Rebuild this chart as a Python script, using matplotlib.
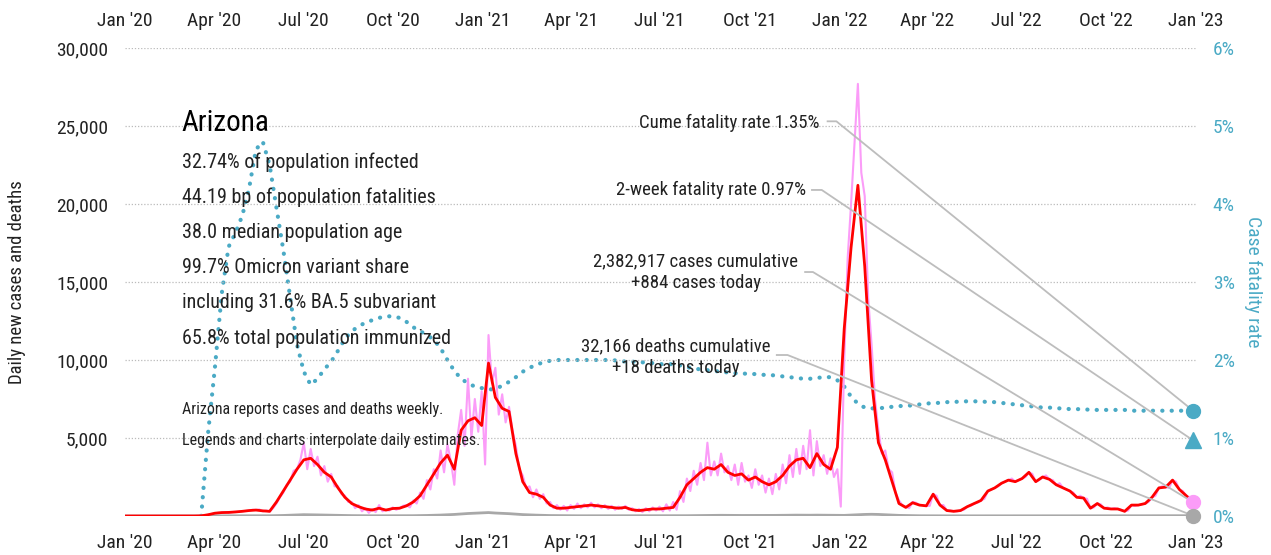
import matplotlib
matplotlib.use("Agg")
import matplotlib.pyplot as plt
import matplotlib.dates as mdates
import matplotlib.font_manager as fm
import numpy as np
import pandas as pd

# weekly 7-day average of new cases, starting 2020-01-02
cases_avg = [
    0, 0, 0, 0, 0, 0, 0, 0, 0, 0, 0,
    10, 80, 180, 220, 230, 260, 300, 350, 380, 330,
    300, 900, 1600, 2300, 3000, 3600, 3700, 3300, 2800, 2500,
    1800, 1200, 800, 600, 450, 380, 500, 380, 480, 500,
    650, 900, 1300, 2000, 2700, 3400, 3900, 3000, 5500, 6100,
    6300, 5800, 9800, 7600, 6900, 6700, 4000, 2200, 1500, 1400,
    1200, 700, 500, 500, 550, 600, 650, 700, 650, 600,
    550, 500, 550, 400, 350, 400, 450, 450, 500, 550,
    1200, 2000, 2400, 2800, 3100, 3000, 3300, 2800, 2600, 2700,
    2300, 2500, 2200, 2000, 2200, 2600, 3200, 3600, 3700, 3100,
    4000, 3300, 3000, 4400, 12000, 17200, 21200, 16000, 8700, 4700,
    3600, 2200, 800, 550, 850, 700, 650, 1400, 700, 350,
    300, 350, 600, 800, 1000, 1600, 1800, 2100, 2300, 2200,
    2400, 2800, 2200, 2500, 2350, 2000, 1800, 1600, 1200, 1150,
    500, 800, 500, 450, 450, 300, 700, 700, 800, 1200,
    1800, 1850, 2300, 1700, 1300, 884,
]

# daily estimates, twice a week
cases_daily = [
    0, 0, 0, 0, 0, 0, 0, 0, 0, 0, 0, 0, 0, 0, 0, 0, 0, 0, 0, 0, 0, 0,
    5, 20, 80, 120, 170, 200, 210, 240, 220, 250, 260, 270, 300, 320,
    340, 400, 380, 420, 300, 350, 280, 500, 800, 1200, 1500, 2000,
    2200, 2900, 3000, 3600, 4700, 3000, 4300, 3200, 3800, 2600,
    3200, 2200, 2700, 1900, 1900, 1400, 1300, 900, 900, 500,
    700, 300, 500, 200, 450, 250, 700, 300, 400, 350, 550, 400,
    500, 650, 700, 550, 1000, 800, 1500, 1100, 2300, 1700,
    3000, 2400, 4200, 2800, 4600, 3500, 2000, 5200, 6800, 4500,
    8800, 5000, 7500, 5400, 8000, 3300, 11600, 8500, 9500, 6500,
    7800, 6000, 7000, 5500, 4500, 3000, 2600, 1800, 1900, 1200,
    1700, 1100, 1400, 800, 900, 500, 700, 400, 650, 350,
    700, 450, 800, 500, 750, 550, 850, 550, 750, 500,
    700, 450, 650, 400, 600, 450, 650, 400, 500, 300,
    450, 250, 500, 300, 550, 350, 600, 300, 750, 350,
    900, 400, 1600, 900, 2400, 1600, 2900, 2000, 3400, 2300,
    4700, 2600, 3500, 2600, 4000, 2800, 3200, 2300, 3300, 2000,
    3400, 2200, 2600, 1800, 3000, 2000, 2600, 1500, 2400, 1400,
    2700, 1700, 3300, 2100, 3900, 2500, 4300, 2700, 4500, 3000,
    5500, 2600, 4800, 3200, 3900, 2700, 3700, 2500, 3000, 600,
    10000, 16500, 20000, 23800, 27700, 22000, 20500, 14000, 11000, 7500,
    5500, 4000, 4200, 3000, 2800, 1500, 1000, 700, 600, 500,
    900, 850, 700, 700, 650, 650, 1400, 1300, 700, 700,
    350, 350, 300, 300, 350, 400, 600, 650, 800, 850,
    1000, 1100, 1600, 1700, 1800, 1900, 2100, 2200, 2300, 2400,
    2200, 2300, 2400, 2500, 2800, 2700, 2200, 2300, 2500, 2600,
    2350, 2300, 2000, 2100, 1800, 1700, 1600, 1500, 1200, 1300,
    1150, 1100, 500, 550, 800, 750, 500, 550, 450, 500,
    450, 400, 300, 350, 700, 650, 700, 750, 800, 900,
    1200, 1300, 1800, 1900, 1850, 1800, 2300, 2200, 1700, 1600,
    1300, 1200, 884,
]

# weekly new deaths
deaths = [
    0, 0, 0, 0, 0, 0, 0, 0, 0, 0, 0,
    2, 5, 8, 10, 12, 14, 15, 15, 14, 15,
    18, 25, 35, 50, 70, 85, 80, 70, 60, 50,
    40, 30, 25, 20, 15, 15, 15, 12, 12, 15,
    15, 20, 25, 35, 45, 60, 80, 100, 130, 160,
    180, 200, 220, 190, 170, 150, 120, 90, 70, 55,
    40, 30, 25, 20, 15, 15, 15, 12, 12, 12,
    10, 10, 10, 10, 10, 10, 10, 12, 12, 12,
    15, 20, 25, 30, 35, 40, 45, 40, 40, 35,
    35, 35, 30, 35, 40, 45, 50, 55, 50, 50,
    55, 50, 50, 40, 40, 60, 80, 100, 110, 100,
    80, 60, 40, 30, 20, 15, 12, 10, 10, 10,
    10, 12, 12, 15, 15, 15, 12, 12, 15, 15,
    15, 15, 12, 12, 12, 10, 10, 10, 10, 10,
    10, 12, 12, 12, 15, 15, 15, 15, 18, 18,
    18, 18, 18, 18, 18, 18,
]

# case fatality rate (%), weekly, from 2020-03-19
cfr = [
    0.0, 1.06, 1.9, 2.85, 3.45, 3.63, 3.85, 4.2, 4.7, 4.8,
    4.5, 3.95, 3.41, 2.8, 2.2, 1.85, 1.68, 1.76, 1.88, 1.98,
    2.12, 2.27, 2.37, 2.43, 2.48, 2.51, 2.54, 2.56, 2.56, 2.54,
    2.49, 2.42, 2.37, 2.32, 2.26, 2.15, 2.0, 1.86, 1.76, 1.7,
    1.66, 1.64, 1.62, 1.63, 1.67, 1.72, 1.78, 1.85, 1.9, 1.94,
    1.97, 1.99, 2.0, 2.0, 2.0, 2.0, 2.0, 2.0, 2.0, 2.0,
    2.0, 1.99, 1.98, 1.98, 1.97, 1.97, 1.96, 1.95, 1.94, 1.95,
    1.93, 1.91, 1.89, 1.88, 1.87, 1.86, 1.85, 1.84, 1.83, 1.83,
    1.82, 1.82, 1.81, 1.81, 1.8, 1.79, 1.78, 1.77, 1.76, 1.76,
    1.77, 1.78, 1.78, 1.74, 1.66, 1.53, 1.44, 1.39, 1.38, 1.38,
    1.39, 1.4, 1.41, 1.41, 1.42, 1.43, 1.44, 1.45, 1.45, 1.46,
    1.46, 1.47, 1.47, 1.47, 1.47, 1.46, 1.46, 1.45, 1.44, 1.43,
    1.42, 1.41, 1.4, 1.39, 1.39, 1.38, 1.38, 1.37, 1.37, 1.37,
    1.36, 1.36, 1.36, 1.36, 1.36, 1.36, 1.35, 1.35, 1.35, 1.35,
    1.35, 1.35, 1.35, 1.35, 1.35, 1.35,
]

cume_cfr = 1.35
two_week_cfr = 0.97
cases_today = 884
deaths_today = 18

state = "Arizona"
stats = [
    "32.74% of population infected",
    "44.19 bp of population fatalities",
    "38.0 median population age",
    "99.7% Omicron variant share",
    "including 31.6% BA.5 subvariant",
    "65.8% total population immunized",
]
notes = [
    "Arizona reports cases and deaths weekly.",
    "Legends and charts interpolate daily estimates.",
]

weeks = pd.date_range("2020-01-02", periods=len(cases_avg), freq="7D")
half_weeks = pd.date_range("2020-01-02", periods=len(cases_daily), freq="84h")
cfr_weeks = pd.date_range("2020-03-19", periods=len(cfr), freq="7D")
last = weeks[-1]

TEAL = "#4aaac5"
PINK = "#fb9cf8"
RED = "#ff0000"
GREY = "#a8a8a8"
LINE = "#bdbdbd"
INK = "#222222"


def pick_font(candidates):
    names = {f.name for f in fm.fontManager.ttflist}
    for name in candidates:
        if name in names:
            return name
    return "DejaVu Sans"


font = pick_font(["Liberation Sans Narrow", "Roboto Condensed", "Open Sans Condensed",
                  "Arial Narrow", "Liberation Sans"])
plt.rcParams["font.family"] = [font, "DejaVu Sans"]

fig = plt.figure(figsize=(12.71, 5.55), dpi=100)
ax = fig.add_axes([125 / 1271, 39 / 555, 1071 / 1271, 468 / 555])
ax2 = ax.twinx()

ax.plot(half_weeks, cases_daily, color=PINK, lw=1.5, zorder=2)
ax.plot(weeks, deaths, color=GREY, lw=2, zorder=3)
ax.plot(weeks, cases_avg, color=RED, lw=2, zorder=4)

ax2.plot(cfr_weeks, cfr, color=TEAL, lw=3.0, linestyle=(0, (0.05, 2.2)),
         dash_capstyle="round", zorder=5)

ax.set_xlim(pd.Timestamp("2020-01-01"), pd.Timestamp("2023-01-01"))
ax.set_ylim(0, 30000)
ax2.set_ylim(0, 6)

ax.xaxis.set_major_locator(mdates.MonthLocator(bymonth=[1, 4, 7, 10]))
ax.xaxis.set_major_formatter(mdates.DateFormatter("%b '%y"))
ax.tick_params(axis="x", which="both", length=0, pad=13, labelsize=14,
               labeltop=True, top=False, bottom=False, labelcolor=INK)

ax.set_yticks(range(5000, 30001, 5000))
ax.set_yticklabels([f"{v:,}" for v in range(5000, 30001, 5000)])
ax.tick_params(axis="y", length=0, pad=12, labelsize=14, labelcolor=INK)
ax.grid(axis="y", color="#bbbbbb", linestyle=(0, (1, 1.5)), lw=0.9)
ax.grid(axis="x", visible=False)

ax2.set_yticks(range(0, 7))
ax2.set_yticklabels([f"{v}%" for v in range(0, 7)])
ax2.tick_params(axis="y", length=0, pad=12, labelsize=14, labelcolor=TEAL)

for a in (ax, ax2):
    for spine in a.spines.values():
        spine.set_visible(False)

ax.set_ylabel("Daily new cases and deaths", fontsize=13.5, color=INK, labelpad=22)
ax2.set_ylabel("Case fatality rate", fontsize=14, color=TEAL, rotation=-90, labelpad=20)

# info block
ax.text(0.053, 0.84, state, transform=ax.transAxes, fontsize=21, color="black",
        va="center", ha="left")
for k, line in enumerate(stats):
    ax.text(0.053, 0.756 - k * 0.0752, line, transform=ax.transAxes, fontsize=14.5,
            color=INK, va="center", ha="left", zorder=6)
for k, line in enumerate(notes):
    ax.text(0.053, 0.2265 - k * 0.0645, line, transform=ax.transAxes, fontsize=11.5,
            color=INK, va="center", ha="left", zorder=6)

# end markers (in case units: 1% = 5000)
ax.plot([last], [cume_cfr * 5000], "o", color=TEAL, ms=10, clip_on=False, zorder=8)
ax.plot([last], [two_week_cfr * 5000], "^", color=TEAL, ms=11, clip_on=False, zorder=8)
ax.plot([last], [cases_today], "o", color=PINK, ms=10, clip_on=False, zorder=8)
ax.plot([last], [deaths_today], "o", color=GREY, ms=10, clip_on=False, zorder=8)

labels = [
    ("Cume fatality rate 1.35%", "2021-12-12", 25200, "right",
     "2021-12-20", "2021-12-29", 25300, cume_cfr * 5000),
    ("2-week fatality rate 0.97%", "2021-11-28", 20900, "right",
     "2021-12-04", "2021-12-14", 20900, two_week_cfr * 5000),
    ("2,382,917 cases cumulative\n+884 cases today", "2021-08-07", 15640, "center",
     "2021-11-27", "2021-12-05", 15640, cases_today),
    ("32,166 deaths cumulative\n+18 deaths today", "2021-07-18", 10190, "center",
     "2021-10-29", "2021-11-09", 10320, deaths_today),
]
for text, tx, ty, ha, x0, x1, ly, end in labels:
    ax.text(pd.Timestamp(tx), ty, text, fontsize=13.5, color=INK, ha=ha, va="center",
            multialignment="center", linespacing=1.3, zorder=7)
    ax.plot([pd.Timestamp(x0), pd.Timestamp(x1), last], [ly, ly, end], color=LINE,
            lw=1.3, clip_on=False, zorder=7)

ax.set_zorder(ax2.get_zorder() + 1)
ax.patch.set_visible(False)

fig.savefig("out.png", dpi=100, facecolor="white")
